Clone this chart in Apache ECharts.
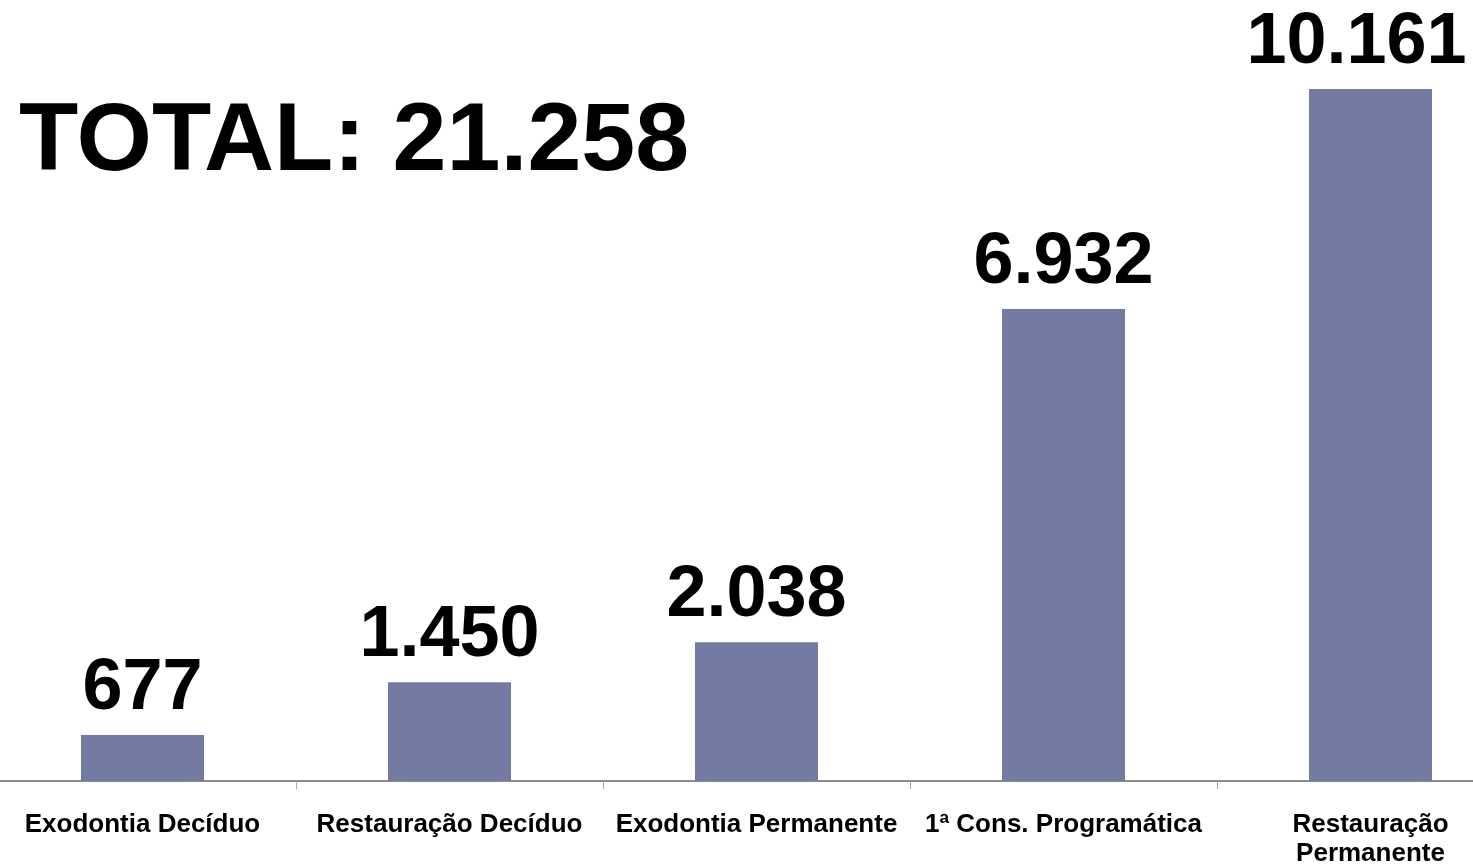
<!DOCTYPE html>
<html>
<head>
<meta charset="utf-8">
<script src="https://cdn.jsdelivr.net/npm/echarts@6/dist/echarts.min.js"></script>
<style>
html,body{margin:0;padding:0;background:#fff;overflow:hidden;width:1473px;height:868px;position:relative;}
#chart{position:absolute;left:-11px;top:0;width:1535px;height:868px;}
</style>
</head>
<body>
<div id="chart"></div>
<script>
const categories = ['Exodontia Decíduo', 'Restauração Decíduo', 'Exodontia Permanente', '1ª Cons. Programática', 'Restauração Permanente'];
const values = [677, 1450, 2038, 6932, 10161];
const valueLabels = ['677', '1.450', '2.038', '6.932', '10.161'];
const totalLabel = 'TOTAL: 21.258';

const FONT = '"Liberation Sans", Arial, sans-serif';
const chart = echarts.init(document.getElementById('chart'));

const measureCtx = document.createElement('canvas').getContext('2d');
measureCtx.font = 'bold 26px ' + FONT;
function wrapLabel(name) {
  if (measureCtx.measureText(name).width <= 300) return name;
  const i = name.lastIndexOf(' ');
  return i > 0 ? name.slice(0, i) + '\n' + name.slice(i + 1) : name;
}

const seriesData = values.map((v, i) => {
  const d = { value: v };
  if (i === values.length - 1) d.label = { offset: [-14, 0] };
  return d;
});

chart.setOption({
  animation: false,
  backgroundColor: '#ffffff',
  title: {
    text: totalLabel,
    left: 25,
    top: 90,
    textStyle: { fontFamily: FONT, fontSize: 97, fontWeight: 'bold', color: '#000' }
  },
  grid: { left: 0, right: 0, top: 89, bottom: 83, containLabel: false },
  xAxis: {
    type: 'category',
    data: categories,
    axisLine: { show: true, lineStyle: { color: '#8c8c8c', width: 2 } },
    axisTick: { show: true, length: 8, lineStyle: { color: '#a6a6a6', width: 1 } },
    axisLabel: {
      interval: 0,
      margin: 29,
      lineHeight: 29,
      formatter: wrapLabel,
      fontFamily: FONT,
      fontSize: 26,
      fontWeight: 'bold',
      color: '#000'
    }
  },
  yAxis: { type: 'value', min: 0, max: 10161, show: false, splitLine: { show: false } },
  series: [{
    type: 'bar',
    data: seriesData,
    barWidth: 123,
    itemStyle: { color: '#737ba2' },
    label: {
      show: true,
      position: 'top',
      distance: 10,
      formatter: p => valueLabels[p.dataIndex],
      fontFamily: FONT,
      fontSize: 72,
      fontWeight: 'bold',
      color: '#000'
    }
  }]
});
</script>
</body>
</html>
